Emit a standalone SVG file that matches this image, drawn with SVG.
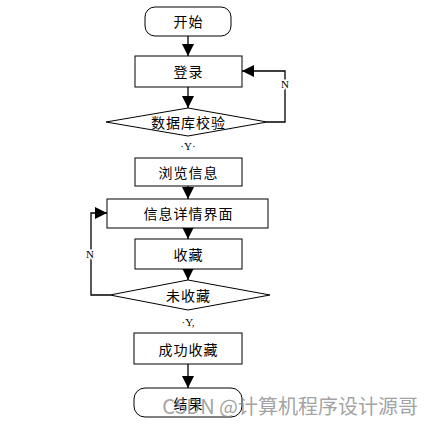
<svg xmlns="http://www.w3.org/2000/svg" width="434" height="424" viewBox="0 0 434 424">
<style>
.s{fill:#fff;stroke:#000;stroke-width:1}
.t{font-family:"Noto Sans CJK SC","Liberation Serif",serif;font-size:14px;letter-spacing:1px;text-anchor:middle;dominant-baseline:central;fill:#000}
.l{font-family:"Liberation Serif",serif;font-size:11px;text-anchor:middle;dominant-baseline:central;fill:#000}
.c{fill:none;stroke:#000;stroke-width:1.3}
</style>
<defs>
<marker id="b" viewBox="0 0 10 10" refX="10" refY="5" markerWidth="12" markerHeight="12" markerUnits="userSpaceOnUse" orient="auto">
<path d="M0,0 L10,5 L0,10 z" fill="#000"/>
</marker>
</defs>
<rect width="434" height="424" fill="#fff"/>
<g id="connectors">
<path class="c" d="M188,36 V56" marker-end="url(#b)"/>
<path class="c" d="M188,87 V108" marker-end="url(#b)"/>
<path class="c" d="M267,122 H285 V71 H242" marker-end="url(#b)"/>
<path class="c" d="M188,186 V199" marker-end="url(#b)"/>
<path class="c" d="M188,228 V239" marker-end="url(#b)"/>
<path class="c" d="M188,269 V280" marker-end="url(#b)"/>
<path class="c" d="M110,295 H91 V213 H107" marker-end="url(#b)"/>
<path class="c" d="M188,364 V388" marker-end="url(#b)"/>
<text class="l" x="285" y="84" style="paint-order:stroke;stroke:#fff;stroke-width:3">N</text>
<text class="l" x="90" y="254" style="paint-order:stroke;stroke:#fff;stroke-width:3">N</text>
<text class="l" x="188" y="146">·Y·</text>
<text class="l" x="188" y="322">·Y,</text>
</g>
<g id="start"><rect class="s" x="145" y="7" width="86" height="29" rx="10"/><text class="t" x="188.5" y="21">开始</text></g>
<g id="login"><rect class="s" x="135" y="56" width="107" height="31"/><text class="t" x="188.5" y="71">登录</text></g>
<g id="check"><polygon class="s" points="106,122 188,108 267,122 188,136"/><text class="t" x="188.5" y="122">数据库校验</text></g>
<g id="browse"><rect class="s" x="135" y="158" width="107" height="28"/><text class="t" x="188.5" y="172">浏览信息</text></g>
<g id="detail"><rect class="s" x="107" y="199" width="161" height="29"/><text class="t" x="188.5" y="213">信息详情界面</text></g>
<g id="fav"><rect class="s" x="135" y="239" width="107" height="30"/><text class="t" x="188.5" y="254">收藏</text></g>
<g id="notfav"><polygon class="s" points="110,295 188,280 270,295 188,310"/><text class="t" x="188.5" y="295">未收藏</text></g>
<g id="success"><rect class="s" x="134" y="333" width="108" height="31"/><text class="t" x="188.5" y="349">成功收藏</text></g>
<g id="end"><rect class="s" x="134" y="388" width="108" height="29" rx="11"/><text class="t" x="188.5" y="403">结果</text></g>
<text x="418" y="405" style="font-family:'Noto Sans CJK SC','Liberation Sans',sans-serif;font-size:20px;text-anchor:end;dominant-baseline:central;fill:#8a8a8a;fill-opacity:0.8">CSDN @计算机程序设计源哥</text>
</svg>
